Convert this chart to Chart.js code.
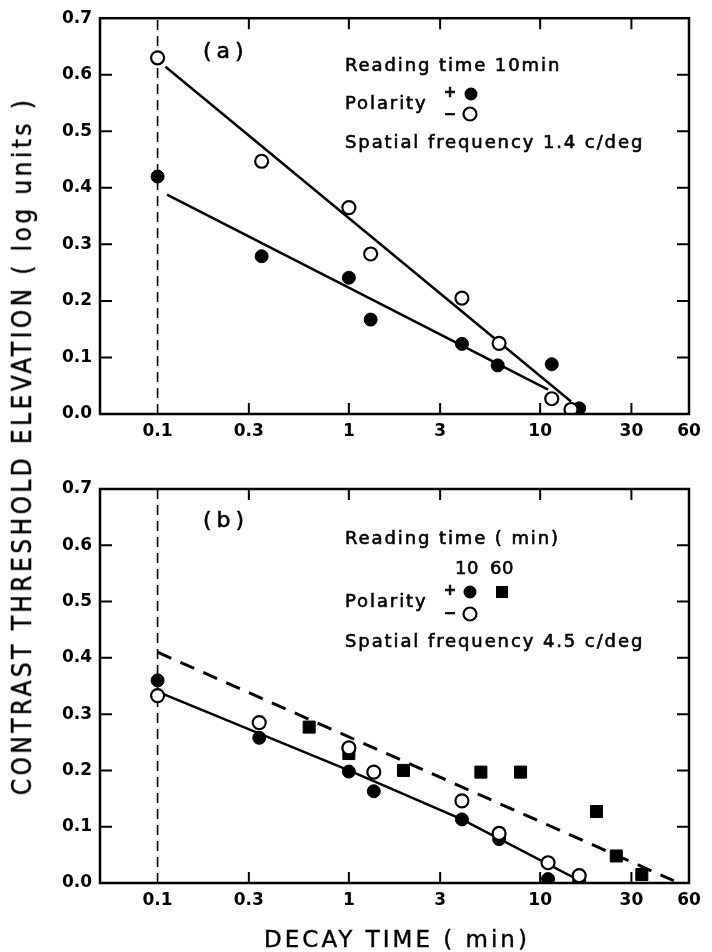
<!DOCTYPE html>
<html>
<head>
<meta charset="utf-8">
<script src="https://cdn.jsdelivr.net/npm/chart.js@4.4.1/dist/chart.umd.min.js"></script>
<style>
  html, body { margin: 0; padding: 0; background: #fff; }
  #page { position: relative; width: 712px; height: 952px; overflow: hidden; }
  #boxA { position: absolute; left: 0; top: 0; width: 712px; height: 470px; }
  #boxB { position: absolute; left: 0; top: 470px; width: 712px; height: 482px; }
  #ytitle {
    position: absolute; left: 22px; top: 446px;
    transform: translate(-50%, -50%) rotate(-90deg);
    white-space: nowrap; color: #000;
    font-family: "DejaVu Sans Condensed", "DejaVu Sans", sans-serif;
    font-size: 26px; letter-spacing: 3.4px;
    -webkit-text-stroke: 0.4px #000;
  }
  #xtitle {
    position: absolute; left: 397px; top: 939px;
    transform: translate(-50%, -50%);
    white-space: nowrap; color: #000;
    font-family: "DejaVu Sans", sans-serif;
    font-size: 23px; letter-spacing: 3px;
    -webkit-text-stroke: 0.4px #000;
  }
</style>
</head>
<body>
<div id="page">
  <div id="boxA"><canvas id="chartA" width="712" height="470"></canvas></div>
  <div id="boxB"><canvas id="chartB" width="712" height="482"></canvas></div>
  <div id="ytitle">CONTRAST THRESHOLD ELEVATION ( log units )</div>
  <div id="xtitle">DECAY TIME ( min)</div>
</div>
<script>
// axis ticks
var xTickVals = [0.1, 0.3, 1, 3, 10, 30, 60];
var xMarkVals = [0.3, 1, 3, 10, 30];
var yMarkVals = [0.1, 0.2, 0.3, 0.4, 0.5, 0.6];
var refX = 0.1;

// panel (a): reading time 10 min, 1.4 c/deg
var aTimes     = [0.1, 0.35, 1.0, 1.3, 3.9, 6.1, 11.5, 14.5];
var aMinus     = [0.63, 0.447, 0.365, 0.283, 0.205, 0.125, 0.027, 0.008];
var aPlusTimes = [0.1, 0.35, 1.0, 1.3, 3.9, 6.0, 11.5, 16];
var aPlus      = [0.42, 0.279, 0.241, 0.167, 0.124, 0.086, 0.088, 0.01];
var aMinusFitX = [0.11, 14.5];
var aMinusFitY = [0.614, 0.022];
var aPlusFitX  = [0.112, 11];
var aPlusFitY  = [0.388, 0.043];

// panel (b): 4.5 c/deg
var bTimes     = [0.1, 0.34, 1.0, 1.35, 3.9, 6.1, 11, 16];
var bPlus10    = [0.36, 0.258, 0.198, 0.163, 0.113, 0.078, 0.007, 0.003];
var bMinus10   = [0.333, 0.285, 0.24, 0.197, 0.146, 0.088, 0.036, 0.013];
var b60Times   = [0.62, 1.0, 1.93, 4.9, 7.9, 19.7, 25, 34];
var bPlus60    = [0.277, 0.23, 0.2, 0.197, 0.197, 0.127, 0.048, 0.015];
var b10FitX    = [0.105, 1.0, 3.9, 17];
var b10FitY    = [0.337, 0.2, 0.113, 0.0];
var b60FitX    = [0.1, 50];
var b60FitY    = [0.41, 0.004];

function pts(xs, ys) {
    return xs.map(function (v, i) { return { x: v, y: ys[i] }; });
}

var noteFont = '18px "DejaVu Sans", sans-serif';

var framePlugin = {
    id: 'frame',
    afterDraw: function (chart, args, opts) {
        var ctx = chart.ctx, a = chart.chartArea;
        var x = chart.scales.x, y = chart.scales.y;
        ctx.save();
        ctx.strokeStyle = '#000';
        ctx.lineWidth = 2.5;
        ctx.strokeRect(a.left, a.top, a.right - a.left, a.bottom - a.top);
        ctx.lineWidth = 2;
        ctx.beginPath();
        xMarkVals.forEach(function (v) {
            var px = x.getPixelForValue(v);
            ctx.moveTo(px, a.bottom); ctx.lineTo(px, a.bottom - 11);
            ctx.moveTo(px, a.top); ctx.lineTo(px, a.top + 11);
        });
        yMarkVals.forEach(function (v) {
            var py = y.getPixelForValue(v);
            ctx.moveTo(a.left, py); ctx.lineTo(a.left + 12, py);
            ctx.moveTo(a.right, py); ctx.lineTo(a.right - 12, py);
        });
        ctx.stroke();

        // annotation text and key symbols
        ctx.fillStyle = '#000';
        ctx.textBaseline = 'middle';
        (opts.notes || []).forEach(function (n) {
            if (n.text) {
                ctx.font = n.font || noteFont;
                ctx.letterSpacing = (n.spacing === undefined ? 1.9 : n.spacing) + 'px';
                ctx.textAlign = n.align || 'left';
                ctx.fillText(n.text, n.x, n.y);
                ctx.lineWidth = 0.6;
                ctx.strokeText(n.text, n.x, n.y);
            } else if (n.mark) {
                ctx.beginPath();
                if (n.mark === 'rect') {
                    ctx.fillRect(n.x - 6, n.y - 6, 12, 12);
                } else {
                    ctx.arc(n.x, n.y, 6.5, 0, Math.PI * 2);
                    if (n.mark === 'filled') { ctx.fill(); }
                    else { ctx.lineWidth = 2.2; ctx.stroke(); }
                }
            }
        });
        ctx.restore();
    }
};

function openSet(data) {
    return { data: data, pointStyle: 'circle', pointRadius: 6.5, pointBackgroundColor: '#fff',
             pointBorderColor: '#000', pointBorderWidth: 2.2, showLine: false };
}
function filledSet(data, style, r) {
    return { data: data, pointStyle: style || 'circle', pointRadius: r || 6.5, pointBackgroundColor: '#000',
             pointBorderColor: '#000', pointBorderWidth: 1, showLine: false };
}
function lineSet(data, dash, width) {
    return { data: data, showLine: true, pointRadius: 0, borderColor: '#000', borderWidth: width || 2.5,
             borderDash: dash || [], fill: false, tension: 0 };
}

function makeChart(id, datasets, notes, padTop, xHeight) {
    var tickFont = { family: '"DejaVu Sans", sans-serif', size: 17, weight: 'bold' };
    return new Chart(document.getElementById(id).getContext('2d'), {
        type: 'scatter',
        data: { datasets: datasets },
        options: {
            responsive: false,
            animation: false,
            devicePixelRatio: 1,
            layout: { padding: { left: 0, right: 23, top: padTop, bottom: 0 } },
            plugins: { legend: { display: false }, tooltip: { enabled: false }, frame: { notes: notes } },
            scales: {
                x: {
                    type: 'logarithmic', min: 0.05, max: 60,
                    afterBuildTicks: function (s) { s.ticks = xTickVals.map(function (v) { return { value: v }; }); },
                    afterFit: function (s) { s.height = xHeight; },
                    ticks: { color: '#000', font: tickFont, padding: 7, autoSkip: false, maxRotation: 0,
                             callback: function (v) { return String(v); } },
                    grid: { display: false, drawTicks: false },
                    border: { display: false }
                },
                y: {
                    min: 0, max: 0.7,
                    afterFit: function (s) { s.width = 100; },
                    ticks: { color: '#000', font: tickFont, padding: 8, stepSize: 0.1,
                             callback: function (v) { return v.toFixed(1); } },
                    grid: { display: false, drawTicks: false },
                    border: { display: false }
                }
            }
        },
        plugins: [framePlugin]
    });
}

var refLine = [{ x: refX, y: 0 }, { x: refX, y: 0.7 }];
var bigFont = '22px "DejaVu Sans", sans-serif';
var signFont = 'bold 15px "DejaVu Sans", sans-serif';

makeChart('chartA', [
    openSet(pts(aTimes, aMinus)),
    filledSet(pts(aPlusTimes, aPlus)),
    lineSet(pts(aMinusFitX, aMinusFitY)),
    lineSet(pts(aPlusFitX, aPlusFitY)),
    lineSet(refLine, [10, 6], 1.6)
], [
    { text: '(a)', x: 203, y: 52, font: bigFont, spacing: 5 },
    { text: 'Reading time 10min', x: 345, y: 66 },
    { text: 'Polarity', x: 345, y: 104 },
    { text: '+', x: 450, y: 93, font: signFont, align: 'center', spacing: 0 },
    { mark: 'filled', x: 471, y: 94 },
    { text: '\u2212', x: 450, y: 115, font: signFont, align: 'center', spacing: 0 },
    { mark: 'open', x: 470, y: 114 },
    { text: 'Spatial frequency 1.4 c/deg', x: 345, y: 143 }
], 16, 56);

makeChart('chartB', [
    openSet(pts(bTimes, bMinus10)),
    filledSet(pts(bTimes, bPlus10)),
    filledSet(pts(b60Times, bPlus60), 'rect', 8.5),
    lineSet(pts(b10FitX, b10FitY)),
    lineSet(pts(b60FitX, b60FitY), [15, 10], 3),
    lineSet(refLine, [10, 6], 1.6)
], [
    { text: '(b)', x: 203, y: 51, font: bigFont, spacing: 5 },
    { text: 'Reading time ( min)', x: 345, y: 69 },
    { text: '10', x: 467, y: 99, align: 'center', spacing: 0.5 },
    { text: '60', x: 502, y: 99, align: 'center', spacing: 0.5 },
    { text: 'Polarity', x: 345, y: 132 },
    { text: '+', x: 450, y: 121, font: signFont, align: 'center', spacing: 0 },
    { mark: 'filled', x: 470, y: 122 },
    { mark: 'rect', x: 502, y: 122 },
    { text: '\u2212', x: 450, y: 144, font: signFont, align: 'center', spacing: 0 },
    { mark: 'open', x: 470, y: 144 },
    { text: 'Spatial frequency 4.5 c/deg', x: 345, y: 172 }
], 19, 69);
</script>
</body>
</html>
